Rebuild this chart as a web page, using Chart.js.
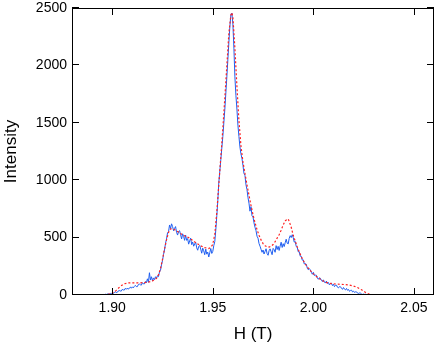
<!DOCTYPE html>
<html>
<head>
<meta charset="utf-8">
<script src="https://cdn.jsdelivr.net/npm/chart.js@4.4.0/dist/chart.umd.min.js"></script>
<style>
  body { margin: 0; background: #fff; }
</style>
</head>
<body>
<canvas id="spec" width="436" height="345"></canvas>
<script>
// measured spectrum: field starts at 1.880 T, one point every 0.0005 T
var fieldStart = 1.880;
var fieldStep = 0.0005;
var measured = [
  0,1,0,2,1,0,1,2,0,1,
  0,2,1,0,1,0,2,1,0,1,
  2,1,0,2,1,3,1,2,4,2,
  3,5,2,7,4,8,10,6,13,9,
  16,12,21,28,22,23,35,39,35,34,
  49,44,43,58,50,60,50,61,69,59,
  71,62,75,84,73,73,91,95,89,86,
  107,97,97,118,107,141,111,194,130,159,
  124,149,134,159,145,168,160,200,215,262,
  300,352,392,450,488,540,552,610,578,620,
  597,560,580,596,546,522,553,560,525,488,
  533,511,476,522,476,492,443,471,495,439,
  462,425,445,460,411,390,423,432,400,364,
  408,385,351,400,356,374,331,368,405,362,
  380,430,465,565,690,820,980,1080,1180,1280,
  1380,1500,1620,1760,1900,2050,2200,2340,2440,2455,
  2360,2150,1900,1740,1620,1480,1380,1290,1230,1190,
  1130,1060,1040,960,920,850,800,730,770,690,
  680,628,590,560,512,495,448,425,398,372,
  392,357,380,403,361,346,386,402,377,351,
  406,395,372,430,396,424,388,426,460,414,
  447,422,455,486,451,445,493,517,500,525,
  500,460,467,422,414,376,377,338,337,303,
  306,270,273,268,233,220,228,221,198,181,
  198,170,173,172,149,137,150,146,129,117,
  132,114,104,121,100,109,88,99,103,82,
  94,73,84,86,68,62,73,72,59,49,
  65,51,44,57,41,48,32,40,42,27,
  34,22,28,27,16,14,18,16,8,5,
  8,5,6,3,3,2,2,1,1,0,
  0,1,0,1,2,0,1,0,1,0,
  1,0,1,2,0,1,0,1,0,1,
  0,1,0,1,0,2,1,0,1,0,
  1,0,1,0,1,0,2,0,1,0,
  0,1,0,1,0,1,0,0,1,0,
  1,0,1,0,1,0,1,0,1,0,
  0
];

// simulated spectrum (red dashed)
var simField = [1.880,1.896,1.898,1.900,1.902,1.904,1.906,1.908,1.910,1.912,1.914,1.916,1.918,1.920,1.922,1.923,1.924,1.925,1.926,1.927,1.928,1.929,1.930,1.931,1.932,1.934,1.936,1.938,1.940,1.942,1.944,1.946,1.948,1.949,1.950,1.951,1.952,1.953,1.954,1.955,1.956,1.957,1.958,1.959,1.9595,1.960,1.961,1.962,1.963,1.964,1.965,1.966,1.967,1.968,1.969,1.970,1.971,1.972,1.973,1.974,1.975,1.976,1.977,1.978,1.979,1.980,1.981,1.982,1.983,1.984,1.985,1.986,1.987,1.9875,1.988,1.989,1.990,1.991,1.992,1.993,1.994,1.995,1.996,1.997,1.998,2.000,2.002,2.004,2.006,2.008,2.010,2.012,2.014,2.016,2.018,2.020,2.022,2.024,2.026,2.028,2.030,2.060];
var simIntensity = [0,0,5,15,40,75,98,105,106,106,106,108,112,122,145,175,230,310,400,480,545,575,578,568,558,535,515,500,475,450,428,412,405,415,440,530,720,960,1200,1450,1720,2000,2280,2440,2460,2420,2150,1820,1520,1300,1160,1060,960,870,780,700,630,570,520,480,448,428,420,418,425,440,465,495,525,565,610,645,660,662,640,590,520,470,420,375,335,300,270,245,222,185,155,130,112,102,97,95,93,90,86,78,65,45,22,6,0,0];

var xTicks = [1.90, 1.95, 2.00, 2.05];
var yTicks = [0, 500, 1000, 1500, 2000, 2500];

var measuredPts = measured.map(function(v, i) { return {x: fieldStart + i * fieldStep, y: v}; });
var simPts = simField.map(function(h, i) { return {x: h, y: simIntensity[i]}; });

// box frame with inward ticks on all four sides
var framePlugin = {
  id: 'frame',
  afterDraw: function(chart) {
    var a = chart.chartArea, c = chart.ctx;
    var xs = chart.scales.x, ys = chart.scales.y;
    c.save();
    c.strokeStyle = '#000';
    c.lineWidth = 1;
    c.strokeRect(a.left + 0.5, a.top + 0.5, a.right - a.left - 1, a.bottom - a.top - 1);
    c.beginPath();
    xTicks.forEach(function(v) {
      var p = Math.round(xs.getPixelForValue(v)) + 0.5;
      c.moveTo(p, a.bottom); c.lineTo(p, a.bottom - 7);
      c.moveTo(p, a.top); c.lineTo(p, a.top + 7);
    });
    yTicks.forEach(function(v) {
      var p = Math.round(ys.getPixelForValue(v)) - 0.5;
      c.moveTo(a.left, p); c.lineTo(a.left + 7, p);
      c.moveTo(a.right, p); c.lineTo(a.right - 7, p);
    });
    c.stroke();
    c.restore();
  }
};

Chart.defaults.font.family = '"Liberation Sans", Arial, Helvetica, sans-serif';
Chart.defaults.color = '#000';

new Chart(document.getElementById('spec'), {
  type: 'line',
  data: {
    datasets: [
      {
        label: 'fit',
        data: simPts,
        borderColor: '#ff2020',
        borderWidth: 1.2,
        borderDash: [2, 2],
        pointRadius: 0,
        fill: false
      },
      {
        label: 'data',
        data: measuredPts,
        borderColor: '#1f5ef0',
        borderWidth: 1,
        pointRadius: 0,
        fill: false
      }
    ]
  },
  options: {
    responsive: false,
    animation: false,
    layout: { padding: { top: 8, right: 2, left: 0, bottom: 0 } },
    plugins: { legend: { display: false }, tooltip: { enabled: false } },
    scales: {
      x: {
        type: 'linear',
        min: 1.88,
        max: 2.06,
        grid: { display: false, drawTicks: false },
        border: { display: false },
        afterBuildTicks: function(s) { s.ticks = xTicks.map(function(v) { return {value: v}; }); },
        afterFit: function(s) { s.height = 50; s.paddingLeft = 0; s.paddingRight = 0; },
        ticks: {
          padding: 5,
          maxRotation: 0,
          font: { size: 14 },
          callback: function(v) { return Number(v).toFixed(2); }
        },
        title: { display: true, text: 'H (T)', font: { size: 17 }, padding: { top: 0, bottom: 0 } }
      },
      y: {
        min: 0,
        max: 2500,
        grid: { display: false, drawTicks: false },
        border: { display: false },
        afterBuildTicks: function(s) { s.ticks = yTicks.map(function(v) { return {value: v}; }); },
        afterFit: function(s) { s.width = 72; s.paddingTop = 0; s.paddingBottom = 0; },
        ticks: { padding: 5, font: { size: 14 }, callback: function(v) { return String(v); } },
        title: { display: true, text: 'Intensity', font: { size: 17 }, padding: { top: 1, bottom: 0 } }
      }
    }
  },
  plugins: [framePlugin]
});
</script>
</body>
</html>
